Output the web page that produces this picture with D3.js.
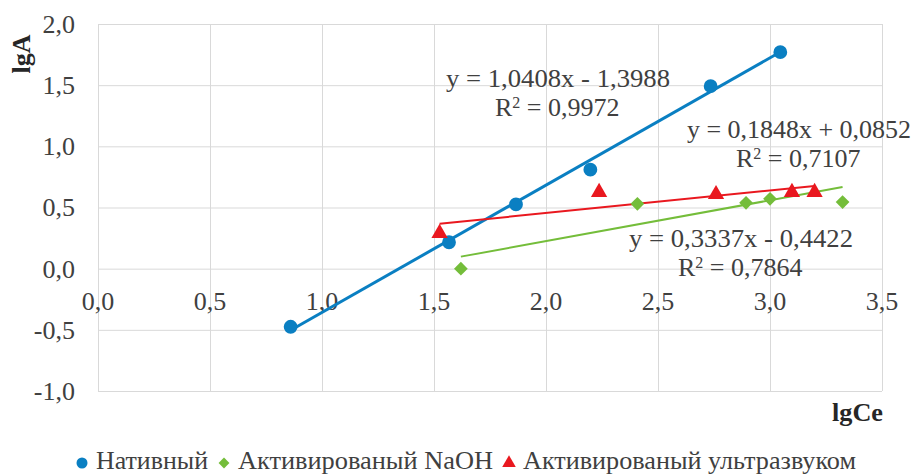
<!DOCTYPE html>
<html>
<head>
<meta charset="utf-8">
<script src="https://cdn.jsdelivr.net/npm/d3@7"></script>
<style>
  body { margin: 0; background: #fff; }
  svg { display: block; }
  svg text { font-family: "Liberation Serif", "Times New Roman", serif; }
</style>
</head>
<body>
<div id="box"></div>
<script>
var w = 913,
    h = 475;

// data
var natX  = [0.86, 1.567, 1.866, 2.198, 2.735, 3.046];
var natY  = [-0.475, 0.216, 0.525, 0.809, 1.492, 1.770];
var naohX = [1.62, 2.408, 2.893, 3.0, 3.324];
var naohY = [0.0, 0.53, 0.538, 0.571, 0.544];
var usX   = [1.525, 2.237, 2.759, 3.098, 3.199];
var usY   = [0.29, 0.625, 0.607, 0.625, 0.625];

var seriesNames = ["Нативный", "Активированый NaOH", "Активированый ультразвуком"];
var slopes      = [1.0408, 0.3337, 0.1848];
var intercepts  = [-1.3988, -0.4422, 0.0852];
var eqLabels    = ["y = 1,0408x - 1,3988", "y = 0,3337x - 0,4422", "y = 0,1848x + 0,0852"];
var r2Values    = ["0,9972", "0,7864", "0,7107"];

var xTicks = [0, 0.5, 1, 1.5, 2, 2.5, 3, 3.5];
var yTicks = [-1, -0.5, 0, 0.5, 1, 1.5, 2];

var colors = ["#0a7fc2", "#74bd3a", "#e9181f"];
var fmt = function(v) { return d3.format(".1f")(v).replace(".", ",").replace("\u2212", "-"); };

var x = d3.scaleLinear().domain([0, 3.5]).range([98, 882]);
var y = d3.scaleLinear().domain([-1, 2]).range([391, 24]);

var svg = d3.select("#box")
            .append("svg")
            .attr("width", w)
            .attr("height", h);

// grid
svg.append("g")
   .attr("transform", "translate(0,391)")
   .call(d3.axisBottom(x).tickValues(xTicks).tickSize(-367).tickFormat(""))
   .call(function(g) {
     g.select(".domain").remove();
     g.selectAll("line").attr("stroke", "#d9d9d9");
   });
svg.append("g")
   .attr("transform", "translate(98,0)")
   .call(d3.axisLeft(y).tickValues(yTicks).tickSize(-784).tickFormat(""))
   .call(function(g) {
     g.select(".domain").remove();
     g.selectAll("line").attr("stroke", "#d9d9d9");
   });

// tick labels
svg.selectAll("text.ylab")
   .data(yTicks)
   .enter()
   .append("text")
   .attr("class", "ylab")
   .attr("x", 75)
   .attr("y", function(d) { return y(d); })
   .attr("dy", "0.34em")
   .attr("text-anchor", "end")
   .attr("font-size", "26px")
   .attr("fill", "#404040")
   .text(fmt);

svg.selectAll("text.xlab")
   .data(xTicks)
   .enter()
   .append("text")
   .attr("class", "xlab")
   .attr("x", function(d) { return x(d); })
   .attr("y", y(0) + 41)
   .attr("text-anchor", "middle")
   .attr("font-size", "26px")
   .attr("fill", "#404040")
   .text(fmt);

// axis titles
svg.append("text")
   .attr("transform", "translate(30,54) rotate(-90)")
   .attr("text-anchor", "middle")
   .attr("font-size", "26px")
   .attr("font-weight", "bold")
   .attr("fill", "#262626")
   .text("lgA");

svg.append("text")
   .attr("x", 832)
   .attr("y", 421)
   .attr("font-size", "26px")
   .attr("font-weight", "bold")
   .attr("fill", "#262626")
   .attr("textLength", 51)
   .attr("lengthAdjust", "spacingAndGlyphs")
   .text("lgCe");

// series
var xs = [natX, naohX, usX],
    ys = [natY, naohY, usY];
var series = xs.map(function(arr, i) {
  return arr.map(function(v, j) { return [v, ys[i][j]]; });
});

// trend lines
var lineWidths = [3, 2, 2];
series.forEach(function(pts, i) {
  var ext = d3.extent(pts, function(d) { return d[0]; });
  var tl = ext.map(function(v) { return [v, slopes[i] * v + intercepts[i]]; });
  svg.append("path")
     .datum(tl)
     .attr("d", d3.line().x(function(d) { return x(d[0]); }).y(function(d) { return y(d[1]); }))
     .attr("stroke", colors[i])
     .attr("stroke-width", lineWidths[i])
     .attr("fill", "none");
});

var symbols = [
  d3.symbol().type(d3.symbolCircle).size(150),
  d3.symbol().type(d3.symbolDiamond2).size(120),
  d3.symbol().type(d3.symbolTriangle).size(115)
];

series.forEach(function(pts, i) {
  svg.append("g")
     .selectAll("path")
     .data(pts)
     .enter()
     .append("path")
     .attr("transform", function(d) { return "translate(" + x(d[0]) + "," + y(d[1]) + ")"; })
     .attr("d", symbols[i])
     .attr("fill", colors[i]);
});

// equation labels
var eqPos = [[558, 87], [741, 247], [799, 138]];
eqPos.forEach(function(p, i) {
  svg.append("text")
     .attr("x", p[0] - 112)
     .attr("y", p[1])
     .attr("font-size", "26px")
     .attr("fill", "#404040")
     .attr("textLength", 224)
     .attr("lengthAdjust", "spacingAndGlyphs")
     .text(eqLabels[i]);
  var r = svg.append("text")
             .attr("x", p[0] - 63)
             .attr("y", p[1] + 29)
             .attr("font-size", "26px")
             .attr("fill", "#404040");
  r.append("tspan").text("R");
  r.append("tspan").attr("font-size", "16px").attr("dy", -8).text("2");
  r.append("tspan").attr("dy", 8).text(" = " + r2Values[i]);
});

// legend
var legSymbols = [
  d3.symbol().type(d3.symbolCircle).size(95),
  d3.symbol().type(d3.symbolDiamond2).size(75),
  d3.symbol().type(d3.symbolTriangle).size(80)
];
var legLens = [112, 255, 333];
var lx = 82;
seriesNames.forEach(function(name, i) {
  svg.append("path")
     .attr("transform", "translate(" + lx + ",463)")
     .attr("d", legSymbols[i])
     .attr("fill", colors[i]);
  svg.append("text")
     .attr("x", lx + 14)
     .attr("y", 469)
     .attr("font-size", "26px")
     .attr("fill", "#404040")
     .attr("textLength", legLens[i])
     .attr("lengthAdjust", "spacingAndGlyphs")
     .text(name);
  lx = lx + 14 + legLens[i] + 16;
});
</script>
</body>
</html>
